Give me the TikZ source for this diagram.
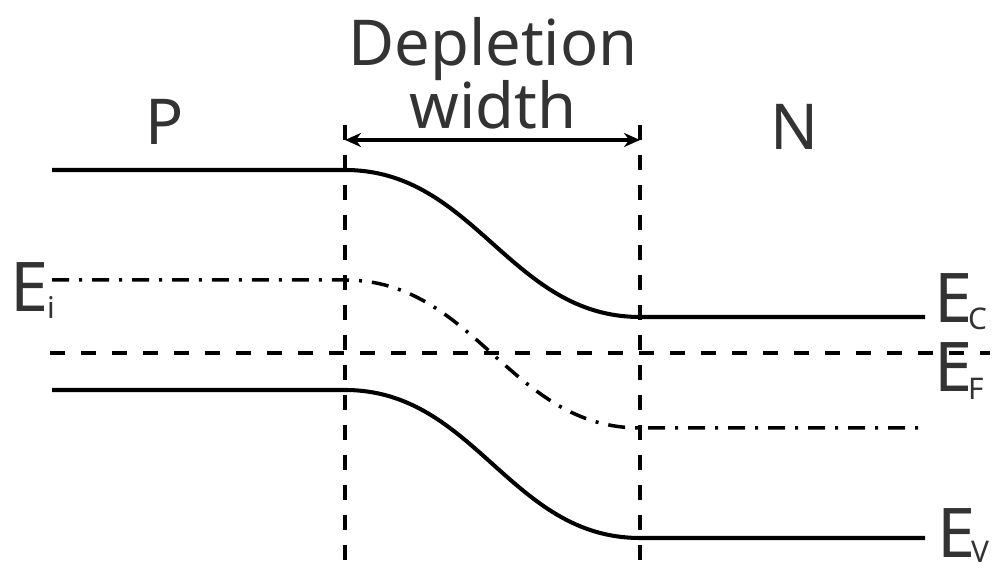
\documentclass[tikz,border=0pt]{standalone}
\usepackage{fontspec}
\setmainfont{Noto Sans}
\usepackage{tikz}
\usetikzlibrary{arrows.meta}
\definecolor{labelgray}{HTML}{333333}
\tikzset{
        band/.style={line width=1.15pt},
        mid/.style={line width=1pt, dash pattern=on 1.7mm off 1mm on 0.3mm off 1mm},
        fermi/.style={line width=1.3pt, dash pattern=on 1.5mm off 1.6mm},
        edge/.style={line width=0.9pt, dash pattern=on 1.5mm off 1.5mm},
        lbl/.style={text=labelgray, inner sep=0pt, font=\fontsize{18}{18}\selectfont},
        elbl/.style={text=labelgray, inner sep=0pt, anchor=base west,
                     font=\fontsize{19.5}{20}\selectfont},
        sub/.style={text=labelgray, inner sep=0pt, anchor=base west,
                    font=\fontsize{8.5}{9}\selectfont},
        myarrow/.style={{Stealth[length=1.6mm, width=1.4mm]}-{Stealth[length=1.6mm, width=1.4mm]},
                        line width=1pt},
}

\begin{document}
\begin{tikzpicture}[x=0.1mm, y=-0.1mm]
        \useasboundingbox (0,0) rectangle (995,575);

        % junction edges
        \coordinate (lt) at (345,125);
        \coordinate (lb) at (345,575);
        \coordinate (rt) at (640,125);
        \coordinate (rb) at (640,575);
        \draw[edge] (lt) -- (lb);
        \draw[edge] (rt) -- (rb);

        % width marker
        \draw[myarrow] (345,140) -- (640,140);

        % conduction band
        \draw[band] (52,170) -- (345,170)
             .. controls (475,170) and (510,317) .. (640,317) -- (925,317);
        % intrinsic level
        \draw[mid] (52,280) -- (345,280)
             .. controls (475,280) and (510,428) .. (640,428) -- (925,428);
        % fermi level
        \draw[fermi] (50,353) -- (990,353);
        % valence band
        \draw[band] (52,390) -- (345,390)
             .. controls (475,390) and (510,538) .. (640,538) -- (925,538);

        % region labels
        \node[lbl, anchor=base] (p) at (165,145) {P};
        \node[lbl, anchor=base] (n) at (795,150) {N};
        \node[lbl, anchor=base] (dw1) at (493,66) {Depletion};
        \node[lbl, anchor=base] (dw2) at (493,129) {width};

        % level labels
        \node[elbl] (ei) at (10,312) {E};
        \node[sub] at ([xshift=-0.3mm, yshift=-0.7mm] ei.base east) {i};
        \node[elbl] (ec) at (934,323) {E};
        \node[sub] at ([xshift=-0.6mm, yshift=-0.7mm] ec.base east) {C};
        \node[elbl] (ef) at (934,392) {E};
        \node[sub] at ([xshift=-0.6mm, yshift=-0.8mm] ef.base east) {F};
        \node[elbl] (ev) at (937,558) {E};
        \node[sub] at ([xshift=-0.6mm, yshift=-0.5mm] ev.base east) {V};
\end{tikzpicture}
\end{document}
